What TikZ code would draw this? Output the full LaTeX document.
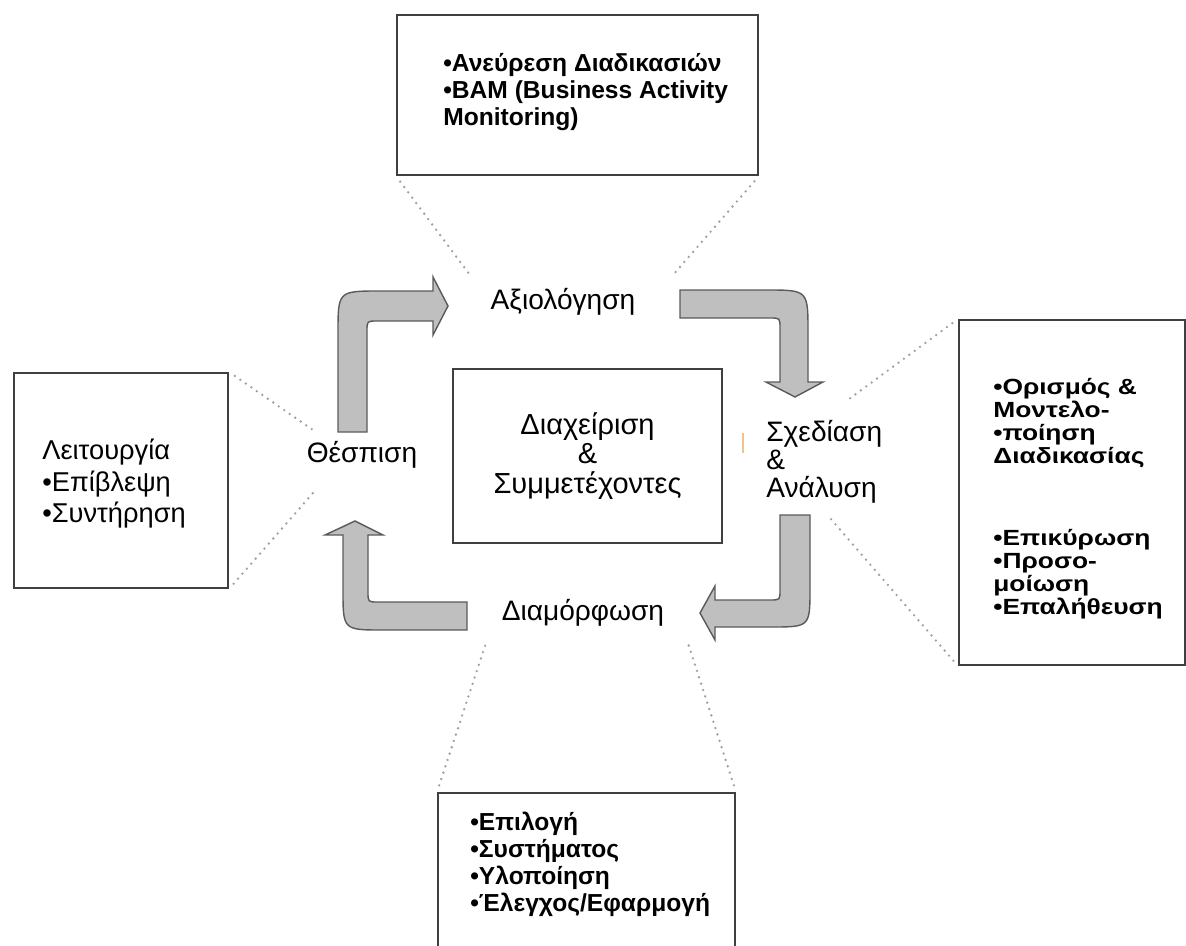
\documentclass[tikz,border=0pt]{standalone}
\usepackage{fontspec}
\setmainfont{Liberation Sans}
\newfontfamily\widesans{Liberation Sans}[FakeStretch=1.2]
\usepackage{tikz}
\usetikzlibrary{positioning}
\usepackage{xcolor}
\definecolor{arrowFill}{HTML}{BFBFBF}
\definecolor{arrowLine}{HTML}{5A5A5A}
\definecolor{boxLine}{HTML}{404040}
\definecolor{leaderGray}{HTML}{A0A0A0}
\definecolor{cursorOrange}{HTML}{F3C287}

\begin{document}
\begin{tikzpicture}[
        x=0.02cm, y=-0.02cm,
        panel/.style={draw=boxLine, line width=1.2pt, fill=white},
        stage/.style={inner sep=0pt, font=\fontsize{16}{16}\selectfont},
        listtext/.style={inner sep=0pt, anchor=north west, align=left},
        bent/.style={draw=arrowLine, fill=arrowFill, line width=0.8pt},
        leader/.style={draw=leaderGray, line width=1.5pt, dash pattern=on 0pt off 3.8pt,
                       line cap=round, shorten <=4pt}
      ]
      \useasboundingbox (0,0) rectangle (1186,946);

      \node[panel, minimum width=7.22cm, minimum height=3.2cm]  (discover) at (577.5,95) {};
      \node[panel, minimum width=4.28cm, minimum height=4.3cm]  (operate)  at (121,480.5) {};
      \node[panel, minimum width=4.52cm, minimum height=6.9cm]  (model)    at (1072,492.5) {};
      \node[panel, minimum width=5.94cm, minimum height=3.34cm] (build)    at (586.5,876.5) {};
      \node[panel, minimum width=5.38cm, minimum height=3.48cm, align=center,
            font=\fontsize{16.5}{17}\selectfont] (core) at (587.5,456)
            {Διαχείριση\\\&\\Συμμετέχοντες};

      \node[listtext, font=\bfseries\fontsize{14}{15.5}\selectfont] (discover-txt) at (443,53)
            {•Ανεύρεση Διαδικασιών\\•BAM (Business Activity\\Monitoring)};
      \node[listtext, font=\fontsize{15.5}{17.8}\selectfont] (operate-txt) at (42,439)
            {Λειτουργία\\•Επίβλεψη\\•Συντήρηση};
      \node[listtext, font=\widesans\bfseries\fontsize{12.5}{13}\selectfont] (model-txt) at (993,378)
            {•Ορισμός \&\\Μοντελο-\\•ποίηση\\Διαδικασίας\\[34pt]•Επικύρωση\\•Προσο-\\μοίωση\\•Επαλήθευση};
      \node[listtext, font=\bfseries\fontsize{14}{15.3}\selectfont] (build-txt) at (470,812)
            {•Επιλογή\\•Συστήματος\\•Υλοποίηση\\•Έλεγχος/Εφαρμογή};

      \node[stage] (evaluate)  at (563,302) {Αξιολόγηση};
      \node[stage] (enact)     at (362,455) {Θέσπιση};
      \node[stage] (configure) at (583,613) {Διαμόρφωση};
      \node[stage, anchor=west, align=left] (design) at (766,462) {Σχεδίαση\\\&\\Ανάλυση};

      \coordinate (evaluate-l)  at (470,275);
      \coordinate (evaluate-r)  at (673,275);
      \coordinate (enact-t)     at (313,430);
      \coordinate (enact-b)     at (313,493);
      \coordinate (design-t)    at (845,402);
      \coordinate (design-b)    at (830,518);
      \coordinate (configure-l) at (487,640);
      \coordinate (configure-r) at (687,640);

      \draw[leader] (discover.south west) -- (evaluate-l);
      \draw[leader] (discover.south east) -- (evaluate-r);
      \draw[leader] (operate.north east)  -- (enact-t);
      \draw[leader] (operate.south east)  -- (enact-b);
      \draw[leader] (model.north west)    -- (design-t);
      \draw[leader] (model.south west)    -- (design-b);
      \draw[leader] (build.north west)    -- (configure-l);
      \draw[leader] (build.north east)    -- (configure-r);

      \draw[bent] (338,432) -- (338,333) .. controls (338,291) .. (380,291) -- (433,291)
        -- (433,277) -- (448,306) -- (433,335) -- (433,321) -- (377,321)
        .. controls (367,321) .. (367,331) -- (367,432) -- cycle;
      \draw[bent] (680,290) -- (766,290) .. controls (808,290) .. (808,332) -- (808,382)
        -- (823,382) -- (795,397) -- (766,382) -- (780,382) -- (780,328)
        .. controls (780,318) .. (770,318) -- (680,318) -- cycle;
      \draw[bent] (780,515) -- (810,515) -- (810,588) .. controls (810,627) .. (771,627)
        -- (715,627) -- (715,640) -- (700,613) -- (715,586) -- (715,600) -- (770,600)
        .. controls (780,600) .. (780,590) -- cycle;
      \draw[bent] (467,602) -- (467,630) -- (383,630) .. controls (343,630) .. (343,590)
        -- (343,535) -- (325,535) -- (355,521) -- (383,535) -- (368,535) -- (368,592)
        .. controls (368,602) .. (378,602) -- cycle;

      \draw[cursorOrange, line width=0.8pt] (743,433) -- (743,453);
    \end{tikzpicture}
\end{document}
